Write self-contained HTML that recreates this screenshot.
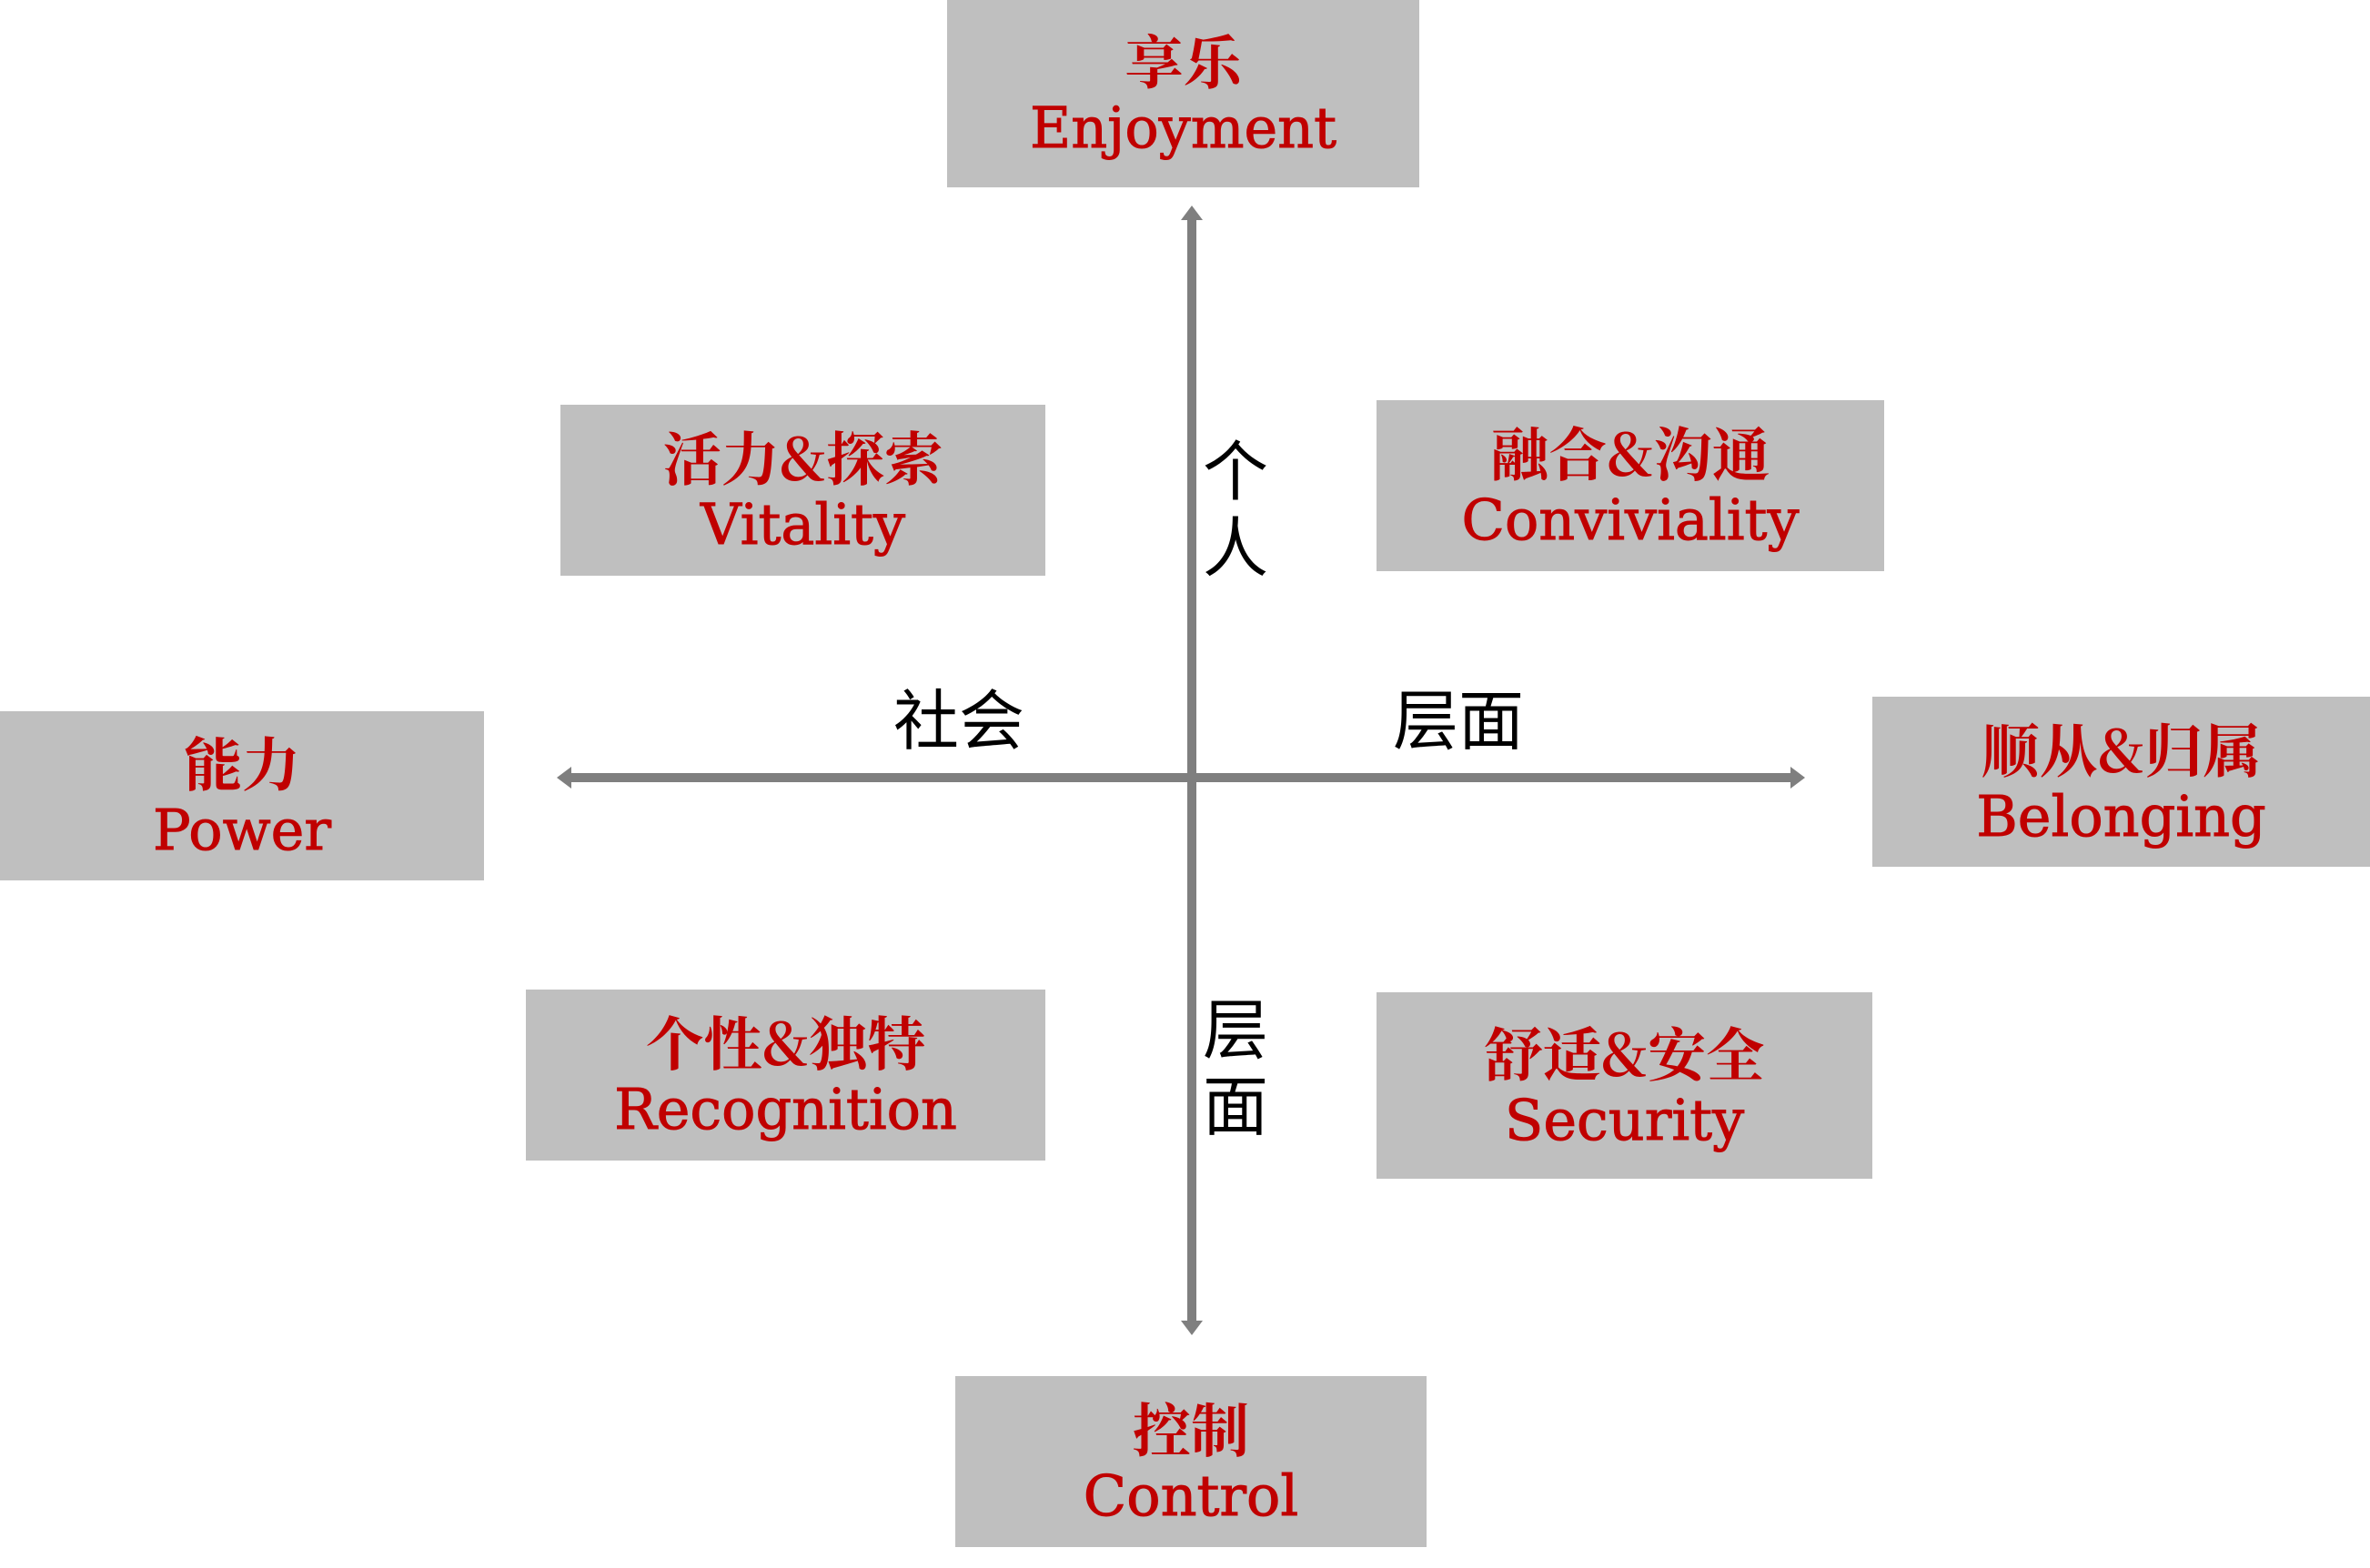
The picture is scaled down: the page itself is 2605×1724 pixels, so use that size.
<!DOCTYPE html>
<html><head><meta charset="utf-8"><style>
body{margin:0;width:2605px;height:1724px;background:#fff;position:relative;overflow:hidden}
.b{position:absolute;background:#bfbfbf;display:flex;flex-direction:column;align-items:center;justify-content:center;color:#c00000;line-height:75px}
.b .c{font-family:"Noto Serif CJK SC","Liberation Serif",serif;font-weight:bold;font-size:64px}
.b .e{font-family:"DejaVu Serif","Liberation Serif",serif;font-size:62px;-webkit-text-stroke:1px #c00000}
.t{position:absolute;font-family:"Liberation Sans","Noto Sans CJK SC",sans-serif;font-size:72px;color:#000;line-height:84px}
</style></head><body>
<svg width="2605" height="1724" style="position:absolute;left:0;top:0">
<g fill="#7f7f7f" stroke="none">
<rect x="1305" y="238" width="10" height="1218"/>
<polygon points="1310,226 1298,242 1322,242"/>
<polygon points="1310,1468 1298,1452 1322,1452"/>
<rect x="624" y="850" width="1348" height="10"/>
<polygon points="612,855 628,843 628,867"/>
<polygon points="1984,855 1968,843 1968,867"/>
</g></svg>
<div class="b" style="left:1041px;top:0;width:519px;height:206px"><div class="c">享乐</div><div class="e">Enjoyment</div></div>
<div class="b" style="left:616px;top:445px;width:533px;height:188px"><div class="c">活力&amp;探索</div><div class="e">Vitality</div></div>
<div class="b" style="left:1513px;top:440px;width:558px;height:188px"><div class="c">融合&amp;沟通</div><div class="e">Conviviality</div></div>
<div class="b" style="left:0;top:782px;width:532px;height:186px"><div class="c">能力</div><div class="e">Power</div></div>
<div class="b" style="left:2058px;top:766px;width:547px;height:187px"><div class="c">顺从&amp;归属</div><div class="e">Belonging</div></div>
<div class="b" style="left:578px;top:1088px;width:571px;height:188px"><div class="c">个性&amp;独特</div><div class="e">Recognition</div></div>
<div class="b" style="left:1513px;top:1091px;width:545px;height:205px"><div class="c">舒适&amp;安全</div><div class="e">Security</div></div>
<div class="b" style="left:1050px;top:1513px;width:518px;height:188px"><div class="c">控制</div><div class="e">Control</div></div>
<div class="t" style="left:1322px;top:478px;width:76px">个<br>人</div>
<div class="t" style="left:1322px;top:1092px;width:76px">层<br>面</div>
<div class="t" style="left:982px;top:752px">社会</div>
<div class="t" style="left:1531px;top:752px">层面</div>
</body></html>
